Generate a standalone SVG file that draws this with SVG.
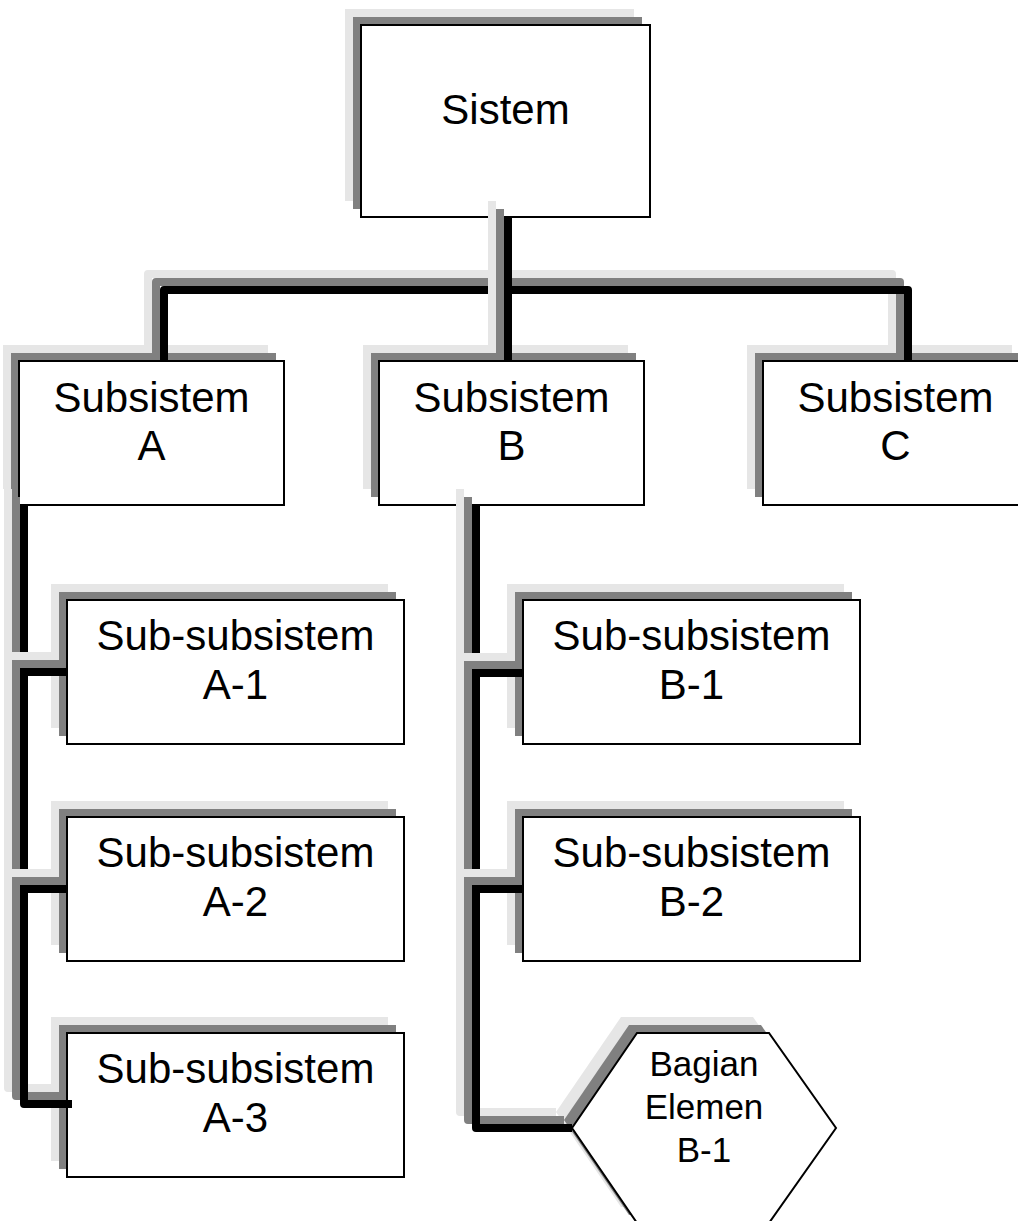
<svg xmlns="http://www.w3.org/2000/svg" xmlns:xlink="http://www.w3.org/1999/xlink" width="1018" height="1221" viewBox="0 0 1018 1221">
  <style>
    .sh-light { fill: #e6e6e6; }
    .sh-dark { fill: #808080; }
    .box { fill: #ffffff; stroke: #000000; stroke-width: 2; }
    .label { font-family: "Liberation Sans", Arial, sans-serif; font-size: 42px; fill: #000000; text-anchor: middle; }
    .label-small { font-family: "Liberation Sans", Arial, sans-serif; font-size: 35px; fill: #000000; text-anchor: middle; }
    .wire { fill: none; stroke-width: 8; stroke-linejoin: round; stroke-linecap: butt; }
    .wire-light { stroke: #e6e6e6; }
    .wire-dark { stroke: #808080; }
    .wire-main { stroke: #000000; }
  </style>
  <defs>
    <!-- connector geometry; each is drawn three times: two offset shadows and the line -->
    <path id="w-top-left" d="M164,361 V290 H508"/>
    <path id="w-top-right" d="M508,290 H908 V361"/>
    <path id="w-top-center" d="M508,217 V361"/>
    <path id="w-a0" d="M24,505 V672"/>
    <path id="w-a1" d="M68,672 H24 V889"/>
    <path id="w-a2" d="M68,889 H24 V1104 H72"/>
    <path id="w-b0" d="M476,505 V673"/>
    <path id="w-b1" d="M523,673 H476 V889"/>
    <path id="w-b2" d="M523,889 H476 V1128 H572"/>
    <polygon id="hex" points="637,1033 769,1033 836,1128 769,1223 637,1223 572,1128"/>
  </defs>

  <g id="node-sistem">
    <rect class="sh-light" x="345" y="9" width="289" height="192"/>
    <rect class="sh-dark" x="353" y="17" width="289" height="192"/>
    <rect class="box" x="361" y="25" width="289" height="192"/>
    <text class="label" x="505.5" y="124">Sistem</text>
  </g>

  <g id="node-subsistem-a">
    <rect class="sh-light" x="3" y="345" width="265" height="144"/>
    <rect class="sh-dark" x="11" y="353" width="265" height="144"/>
    <rect class="box" x="19" y="361" width="265" height="144"/>
    <text class="label" x="151.5" y="412">Subsistem</text>
    <text class="label" x="151.5" y="460">A</text>
  </g>

  <g id="node-subsistem-b">
    <rect class="sh-light" x="363" y="345" width="265" height="144"/>
    <rect class="sh-dark" x="371" y="353" width="265" height="144"/>
    <rect class="box" x="379" y="361" width="265" height="144"/>
    <text class="label" x="511.5" y="412">Subsistem</text>
    <text class="label" x="511.5" y="460">B</text>
  </g>

  <g id="node-subsistem-c">
    <rect class="sh-light" x="747" y="345" width="265" height="144"/>
    <rect class="sh-dark" x="755" y="353" width="265" height="144"/>
    <rect class="box" x="763" y="361" width="265" height="144"/>
    <text class="label" x="895.5" y="412">Subsistem</text>
    <text class="label" x="895.5" y="460">C</text>
  </g>

  <g id="node-a1">
    <rect class="sh-light" x="51" y="584" width="337" height="144"/>
    <rect class="sh-dark" x="59" y="592" width="337" height="144"/>
    <rect class="box" x="67" y="600" width="337" height="144"/>
    <text class="label" x="235.5" y="650">Sub-subsistem</text>
    <text class="label" x="235.5" y="699">A-1</text>
  </g>

  <g id="node-a2">
    <rect class="sh-light" x="51" y="801" width="337" height="144"/>
    <rect class="sh-dark" x="59" y="809" width="337" height="144"/>
    <rect class="box" x="67" y="817" width="337" height="144"/>
    <text class="label" x="235.5" y="867">Sub-subsistem</text>
    <text class="label" x="235.5" y="916">A-2</text>
  </g>

  <g id="node-a3">
    <rect class="sh-light" x="51" y="1017" width="337" height="144"/>
    <rect class="sh-dark" x="59" y="1025" width="337" height="144"/>
    <rect class="box" x="67" y="1033" width="337" height="144"/>
    <text class="label" x="235.5" y="1083">Sub-subsistem</text>
    <text class="label" x="235.5" y="1132">A-3</text>
  </g>

  <g id="node-b1">
    <rect class="sh-light" x="507" y="584" width="337" height="144"/>
    <rect class="sh-dark" x="515" y="592" width="337" height="144"/>
    <rect class="box" x="523" y="600" width="337" height="144"/>
    <text class="label" x="691.5" y="650">Sub-subsistem</text>
    <text class="label" x="691.5" y="699">B-1</text>
  </g>

  <g id="node-b2">
    <rect class="sh-light" x="507" y="801" width="337" height="144"/>
    <rect class="sh-dark" x="515" y="809" width="337" height="144"/>
    <rect class="box" x="523" y="817" width="337" height="144"/>
    <text class="label" x="691.5" y="867">Sub-subsistem</text>
    <text class="label" x="691.5" y="916">B-2</text>
  </g>

  <g id="node-bagian-b1">
    <use xlink:href="#hex" href="#hex" class="sh-light" transform="translate(-16,-16)"/>
    <use xlink:href="#hex" href="#hex" class="sh-dark" transform="translate(-8,-8)"/>
    <use xlink:href="#hex" href="#hex" class="box" stroke-width="1.5"/>
    <text class="label-small" x="704" y="1076">Bagian</text>
    <text class="label-small" x="704" y="1119">Elemen</text>
    <text class="label-small" x="704" y="1162">B-1</text>
  </g>

  <g id="connectors" class="wire">
    <g id="conn-top-left">
      <use xlink:href="#w-top-left" href="#w-top-left" class="wire-light" transform="translate(-16,-16)"/>
      <use xlink:href="#w-top-left" href="#w-top-left" class="wire-dark" transform="translate(-8,-8)"/>
      <use xlink:href="#w-top-left" href="#w-top-left" class="wire-main"/>
    </g>
    <g id="conn-top-right">
      <use xlink:href="#w-top-right" href="#w-top-right" class="wire-light" transform="translate(-16,-16)"/>
      <use xlink:href="#w-top-right" href="#w-top-right" class="wire-dark" transform="translate(-8,-8)"/>
      <use xlink:href="#w-top-right" href="#w-top-right" class="wire-main"/>
    </g>
    <g id="conn-top-center">
      <use xlink:href="#w-top-center" href="#w-top-center" class="wire-light" transform="translate(-16,-16)"/>
      <use xlink:href="#w-top-center" href="#w-top-center" class="wire-dark" transform="translate(-8,-8)"/>
      <use xlink:href="#w-top-center" href="#w-top-center" class="wire-main"/>
    </g>
    <g id="conn-a">
      <use xlink:href="#w-a0" href="#w-a0" class="wire-light" transform="translate(-16,-16)"/>
      <use xlink:href="#w-a0" href="#w-a0" class="wire-dark" transform="translate(-8,-8)"/>
      <use xlink:href="#w-a0" href="#w-a0" class="wire-main"/>
      <use xlink:href="#w-a1" href="#w-a1" class="wire-light" transform="translate(-16,-16)"/>
      <use xlink:href="#w-a1" href="#w-a1" class="wire-dark" transform="translate(-8,-8)"/>
      <use xlink:href="#w-a1" href="#w-a1" class="wire-main"/>
      <use xlink:href="#w-a2" href="#w-a2" class="wire-light" transform="translate(-16,-16)"/>
      <use xlink:href="#w-a2" href="#w-a2" class="wire-dark" transform="translate(-8,-8)"/>
      <use xlink:href="#w-a2" href="#w-a2" class="wire-main"/>
    </g>
    <g id="conn-b">
      <use xlink:href="#w-b0" href="#w-b0" class="wire-light" transform="translate(-16,-16)"/>
      <use xlink:href="#w-b0" href="#w-b0" class="wire-dark" transform="translate(-8,-8)"/>
      <use xlink:href="#w-b0" href="#w-b0" class="wire-main"/>
      <use xlink:href="#w-b1" href="#w-b1" class="wire-light" transform="translate(-16,-16)"/>
      <use xlink:href="#w-b1" href="#w-b1" class="wire-dark" transform="translate(-8,-8)"/>
      <use xlink:href="#w-b1" href="#w-b1" class="wire-main"/>
      <use xlink:href="#w-b2" href="#w-b2" class="wire-light" transform="translate(-16,-16)"/>
      <use xlink:href="#w-b2" href="#w-b2" class="wire-dark" transform="translate(-8,-8)"/>
      <use xlink:href="#w-b2" href="#w-b2" class="wire-main"/>
    </g>
  </g>
</svg>
